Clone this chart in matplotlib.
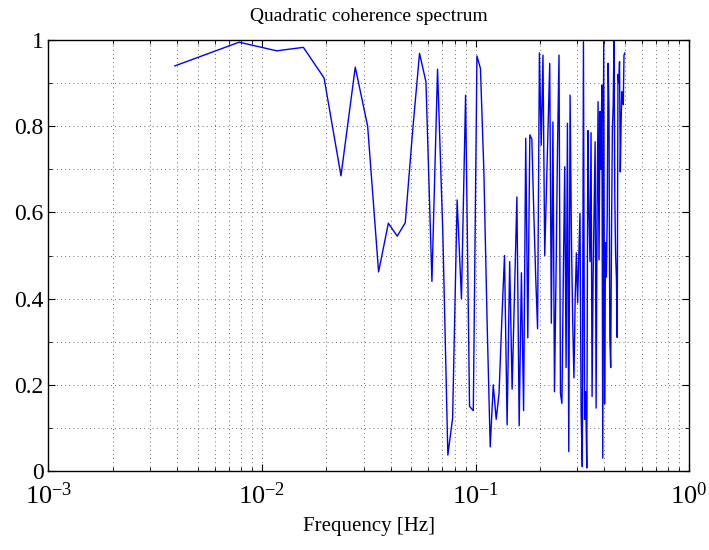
import numpy as np
import matplotlib
matplotlib.use("Agg")
import matplotlib.pyplot as plt
from matplotlib.ticker import LogLocator, MultipleLocator, NullFormatter

# frequency bins: k/256 Hz, k = 1..128
fs = 1.0
nfft = 256
bins = np.arange(1, 129)

# coherence values, one per bin
coh = [
    0.94, 0.995, 0.975, 0.983, 0.912, 0.685, 0.937, 0.80, 0.462, 0.575,
    0.545, 0.576, 0.79, 0.969, 0.903, 0.44, 0.932, 0.55, 0.037, 0.123,
    0.629, 0.40, 0.872, 0.15, 0.14, 0.963, 0.934, 0.70, 0.35, 0.056,
    0.20, 0.12, 0.18, 0.35, 0.50, 0.107, 0.486, 0.19, 0.42, 0.636,
    0.105, 0.46, 0.14, 0.772, 0.309, 0.78, 0.77, 0.60, 0.45, 0.33,
    0.97, 0.756, 0.965, 0.50, 0.65, 0.80, 0.946, 0.343, 0.81, 0.184,
    0.45, 0.75, 0.965, 0.18, 0.157, 0.45, 0.706, 0.24, 0.807, 0.045,
    0.872, 0.55, 0.35, 0.216, 0.40, 0.506, 0.39, 0.50, 0.598, 0.13,
    0.01, 0.996, 0.12, 0.184, 0.007, 0.79, 0.60, 0.486, 0.785, 0.173,
    0.45, 0.60, 0.764, 0.146, 0.60, 0.857, 0.49, 0.834, 0.70, 0.896,
    0.03, 0.996, 0.156, 0.53, 0.45, 0.594, 0.946, 0.838, 0.309, 0.24,
    0.55, 0.79, 0.85, 1.0, 0.636, 0.50, 0.45, 0.31, 0.92, 0.90,
    0.95, 0.694, 0.80, 0.88, 0.87, 0.85, 0.965, 0.97,
]
ytick_vals = [0, 0.2, 0.4, 0.6, 0.8, 1.0]
ytick_labels = ['0', '0.2', '0.4', '0.6', '0.8', '1']

freq = bins * fs / nfft

plt.rcParams['font.family'] = ['Liberation Serif', 'DejaVu Serif']
plt.rcParams['mathtext.fontset'] = 'stix'

fig = plt.figure(figsize=(7.09, 5.5), dpi=100)
ax = fig.add_axes([0.0684, 0.1436, 0.9034, 0.7836])

ax.plot(freq, coh, color='#0000ff', linewidth=1.0)

ax.set_xscale('log')
ax.set_xlim(1e-3, 1e0)
ax.set_ylim(0, 1)

ax.xaxis.set_major_locator(LogLocator(base=10, numticks=10))
ax.xaxis.set_minor_locator(LogLocator(base=10, subs=np.arange(2, 10), numticks=20))
ax.xaxis.set_minor_formatter(NullFormatter())
ax.set_yticks(ytick_vals)
ax.set_yticklabels(ytick_labels)
ax.yaxis.set_minor_locator(MultipleLocator(0.1))

ax.grid(True, which='both', linestyle=(0, (1, 4)), linewidth=0.6, color='0.25')

ax.tick_params(which='both', direction='in', top=True, right=True)
ax.tick_params(axis='y', labelsize=17)
ax.tick_params(axis='x', labelsize=19, pad=8)
ax.tick_params(which='major', length=5, width=0.8)
ax.tick_params(which='minor', length=3, width=0.6)
for s in ax.spines.values():
    s.set_linewidth(1.0)

ax.set_title('Quadratic coherence spectrum', fontsize=14, pad=14)
ax.set_xlabel('Frequency [Hz]', fontsize=15, labelpad=6)

fig.savefig('out.png', dpi=100)
